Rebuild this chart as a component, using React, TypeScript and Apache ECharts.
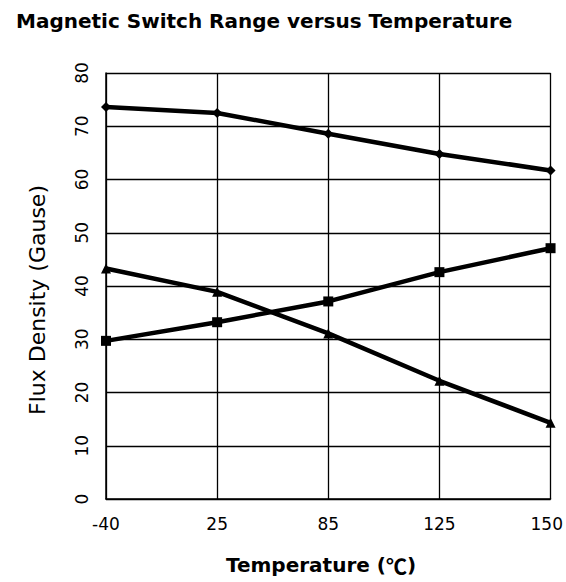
import React, { useEffect, useRef } from "react";
import * as echarts from "echarts";

const categories = ["-40", "25", "85", "125", "150"];
const upperSeries = [73.6, 72.5, 68.6, 64.8, 61.7];
const fallingSeries = [43.3, 38.9, 31.1, 22.2, 14.3];
const risingSeries = [29.7, 33.2, 37.1, 42.6, 47.1];
const yTicks = { min: 0, max: 80, interval: 10 };

const WIDE = "'DejaVu Sans', 'Liberation Sans', sans-serif";
const CJK = "'Noto Sans CJK JP', 'Noto Sans CJK SC', sans-serif";

export default function App() {
  const ref = useRef<HTMLDivElement>(null);
  useEffect(() => {
    if (!ref.current) return;
    const chart = echarts.init(ref.current, null, { renderer: "svg" });
    const lineStyle = { color: "#000", width: 4.5 };
    const lastCat = categories[categories.length - 1];
    chart.setOption({
      animation: false,
      backgroundColor: "#fff",
      title: {
        text: "Magnetic Switch Range versus Temperature",
        left: 16,
        top: 11,
        padding: 0,
        textStyle: { fontFamily: WIDE, fontSize: 20, fontWeight: "bold", color: "#000" },
      },
      graphic: [
        {
          type: "text",
          x: 37.5,
          y: 300,
          rotation: Math.PI / 2,
          style: {
            text: "Flux Density (Gause)",
            font: `22px ${WIDE}`,
            fill: "#000",
            align: "center",
            verticalAlign: "middle",
          },
        },
        {
          type: "text",
          x: 321,
          y: 565,
          style: {
            text: "{a|Temperature (}{b|℃}{a|)}",
            align: "center",
            verticalAlign: "middle",
            rich: {
              a: { fontFamily: WIDE, fontSize: 20, fontWeight: "bold", fill: "#000" },
              b: { fontFamily: CJK, fontSize: 21, fontWeight: "bold", fill: "#000" },
            },
          },
        },
      ],
      grid: { left: 106, right: 15, top: 73, bottom: 83 },
      xAxis: {
        type: "category",
        data: categories,
        boundaryGap: false,
        axisLine: { show: true, lineStyle: { color: "#000", width: 1.5 } },
        axisTick: { show: false, interval: 0 },
        axisLabel: {
          interval: 0,
          fontFamily: WIDE,
          fontSize: 17,
          color: "#000",
          margin: 16,
          formatter: (v: string) => (v === lastCat ? `{last|${v}}` : v),
          rich: {
            last: { fontFamily: WIDE, fontSize: 17, color: "#000", width: 40, align: "left" },
          },
        },
        splitLine: { show: true, interval: 0, lineStyle: { color: "#000", width: 1.3 } },
      },
      yAxis: {
        type: "value",
        min: yTicks.min,
        max: yTicks.max,
        interval: yTicks.interval,
        axisLine: { show: true, lineStyle: { color: "#000", width: 1.5 } },
        axisTick: { show: false },
        axisLabel: { fontFamily: WIDE, fontSize: 17, color: "#000", rotate: 90, margin: 16 },
        splitLine: { show: true, lineStyle: { color: "#000", width: 1.3 } },
      },
      series: [
        {
          type: "line",
          data: upperSeries,
          symbol: "diamond",
          symbolSize: 10,
          itemStyle: { color: "#000" },
          lineStyle,
        },
        {
          type: "line",
          data: fallingSeries,
          symbol: "triangle",
          symbolSize: 10,
          itemStyle: { color: "#000" },
          lineStyle,
        },
        {
          type: "line",
          data: risingSeries,
          symbol: "rect",
          symbolSize: 10,
          itemStyle: { color: "#000" },
          lineStyle,
        },
      ],
    });
    return () => chart.dispose();
  }, []);
  return (
    <div
      ref={ref}
      style={{ width: 566, height: 582, position: "absolute", left: 0, top: 0 }}
    />
  );
}
